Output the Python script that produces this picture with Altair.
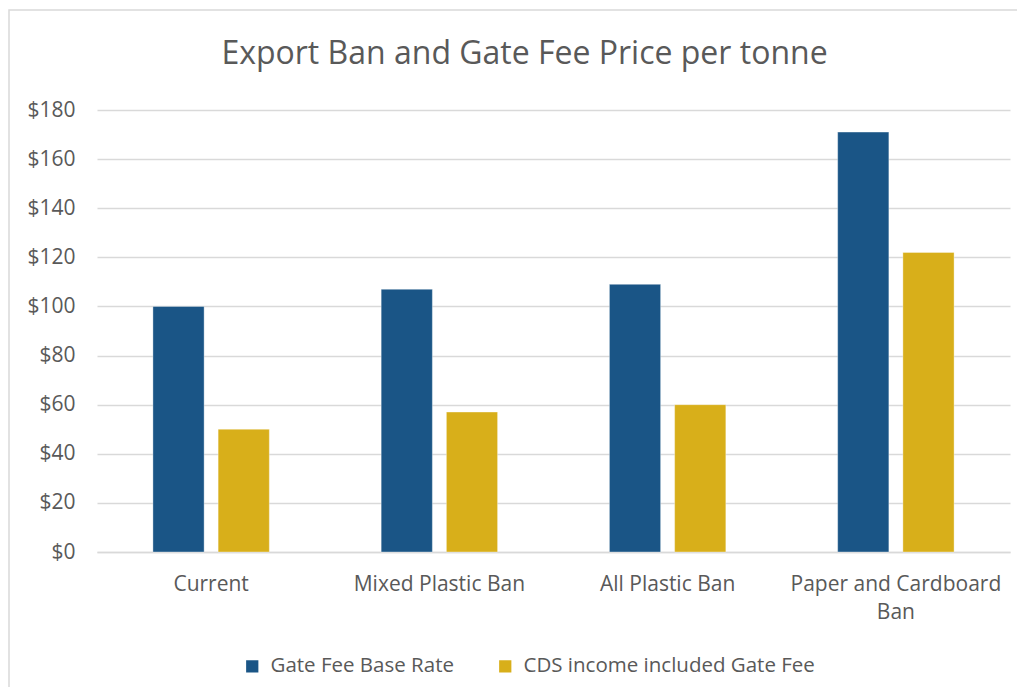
import altair as alt
import pandas as pd

categories = ["Current", "Mixed Plastic Ban", "All Plastic Ban", "Paper and Cardboard Ban"]
base_rate = [100, 107, 109, 171]
cds_fee = [50, 57, 60, 122]
series_names = ["Gate Fee Base Rate", "CDS income included Gate Fee"]
colors = ["#1A5586", "#D8AF1A"]
y_ticks = [0, 20, 40, 60, 80, 100, 120, 140, 160, 180]

rows = []
for c, b, d in zip(categories, base_rate, cds_fee):
    rows.append({"category": c, "series": series_names[0], "value": b})
    rows.append({"category": c, "series": series_names[1], "value": d})
df = pd.DataFrame(rows)

FONT = "Open Sans"
GRAY = "#595959"

bars = alt.Chart(df).mark_bar(stroke="white", strokeWidth=0.6, strokeOpacity=0.6).encode(
    x=alt.X(
        "category:N",
        sort=categories,
        title=None,
        scale=alt.Scale(paddingInner=0.49, paddingOuter=0.245),
        axis=alt.Axis(
            labelAngle=0,
            labelFont=FONT,
            labelFontSize=21,
            labelColor=GRAY,
            labelPadding=21,
            ticks=False,
            domainColor="#d9d9d9",
            domainWidth=1.3,
            labelLimit=400,
            labelLineHeight=28,
            labelExpr="datum.label == 'Paper and Cardboard Ban' ? ['Paper and Cardboard', 'Ban'] : datum.label",
        ),
    ),
    xOffset=alt.XOffset("series:N", sort=series_names, scale=alt.Scale(paddingInner=0.215)),
    y=alt.Y(
        "value:Q",
        title=None,
        scale=alt.Scale(domain=[0, 180], nice=False),
        axis=alt.Axis(
            values=y_ticks,
            format="$.0f",
            labelFont=FONT,
            labelFontSize=21,
            labelColor=GRAY,
            labelPadding=22,
            ticks=False,
            domain=False,
            gridColor="#d9d9d9",
            gridWidth=1.3,
        ),
    ),
    color=alt.Color(
        "series:N",
        sort=series_names,
        scale=alt.Scale(domain=series_names, range=colors),
        legend=alt.Legend(
            title=None,
            orient="none",
            direction="horizontal",
            legendX=145,
            legendY=546,
            symbolType="square",
            symbolSize=150,
            symbolStrokeWidth=0,
            labelFont=FONT,
            labelFontSize=20.5,
            labelColor=GRAY,
            labelOffset=8,
            labelLimit=500,
            columnPadding=41,
        ),
    ),
)

border = alt.Chart(pd.DataFrame({"a": [0]})).mark_rect(
    fill=None, stroke="#d9d9d9", strokeWidth=1.5
).encode(
    x=alt.value(-88),
    x2=alt.value(1200),
    y=alt.value(-100),
    y2=alt.value(800),
)

chart = alt.layer(border, bars).properties(
    width=913,
    height=442,
    title=alt.TitleParams(
        "Export Ban and Gate Fee Price per tonne",
        font=FONT,
        fontSize=32,
        fontWeight="normal",
        color=GRAY,
        anchor="middle",
        dx=-29,
        offset=0,
        dy=62,
    ),
    autosize=alt.AutoSizeParams(type="none"),
    padding={"left": 89, "top": 102, "right": 7, "bottom": 135},
).configure_view(stroke=None)

chart.save("out.html", embed_options={"renderer": "svg", "actions": False})
